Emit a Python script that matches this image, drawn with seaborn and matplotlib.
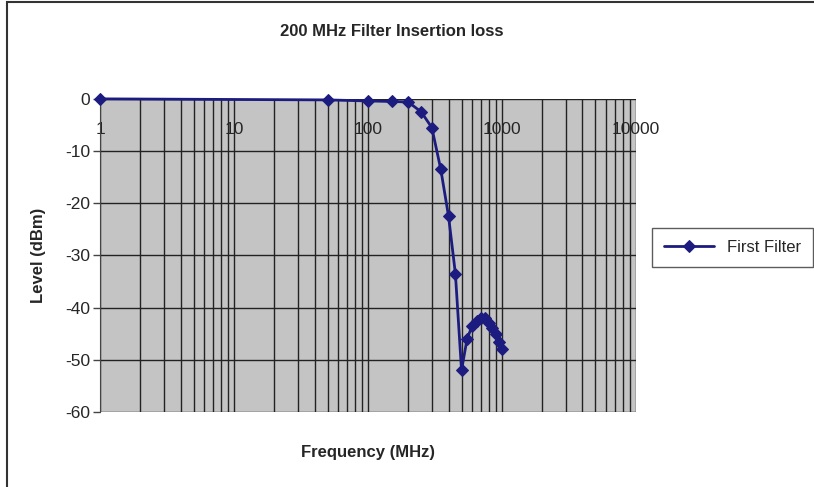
import numpy as np
import matplotlib
matplotlib.use("Agg")
import matplotlib.pyplot as plt
import seaborn as sns
import pandas as pd
from matplotlib.patches import Rectangle
from matplotlib.ticker import FixedLocator, NullFormatter

# data
freq_mhz = [1, 50, 100, 150, 200, 250, 300, 350, 400, 450, 500, 550,
            600, 650, 700, 750, 800, 850, 900, 950, 1000]
level_dbm = [0, -0.2, -0.4, -0.5, -0.6, -2.5, -5.5, -13.5, -22.5, -33.5, -52, -46,
             -43.5, -42.5, -42, -42, -43, -44, -45, -46.5, -48]
series_name = "First Filter"
x_ticks = [1, 10, 100, 1000, 10000]
y_ticks = [0, -10, -20, -30, -40, -50, -60]

df = pd.DataFrame({"Frequency": freq_mhz, "Level": level_dbm, "Series": series_name})

sns.set_style("white")
plt.rcParams["font.family"] = ["Liberation Sans", "DejaVu Sans"]

fig = plt.figure(figsize=(8.14, 4.87), dpi=100)
ax = fig.add_axes([0.123, 0.154, 0.658, 0.643])
ax.set_facecolor("#c4c4c4")

sns.lineplot(data=df, x="Frequency", y="Level", hue="Series", palette=["#1c1c80"],
             marker="D", markersize=6, markeredgecolor="#1c1c80", linewidth=2,
             ax=ax, legend=True, zorder=5, clip_on=False)

ax.set_xscale("log")
ax.set_xlim(1, 10000)
ax.set_ylim(-60, 0)
ax.xaxis.set_major_locator(FixedLocator(x_ticks))
ax.xaxis.set_minor_locator(FixedLocator([m * 10 ** d for d in range(4) for m in range(2, 10)]))
ax.xaxis.set_minor_formatter(NullFormatter())
ax.set_xticklabels([str(t) for t in x_ticks])
ax.set_yticks(y_ticks)
ax.set_yticklabels([str(t) for t in y_ticks])

ax.grid(True, which="major", axis="both", color="#222222", linewidth=1.0)
ax.grid(True, which="minor", axis="x", color="#222222", linewidth=1.0)

ax.tick_params(axis="x", which="both", top=False, bottom=False,
               labeltop=True, labelbottom=False, pad=-31, labelsize=12.5)
ax.tick_params(axis="y", left=True, length=5, width=1, color="#444444", labelsize=12.5, pad=2)
for side in ["top", "right", "bottom"]:
    ax.spines[side].set_visible(False)
ax.spines["left"].set_color("#444444")

ax.set_xlabel("Frequency (MHz)", fontsize=12, fontweight="bold", labelpad=24)
ax.set_ylabel("Level (dBm)", fontsize=12, fontweight="bold", labelpad=14)
ax.set_title("200 MHz Filter Insertion loss", fontsize=12, fontweight="bold", pad=45, x=0.545)

leg = ax.legend(loc="center left", bbox_to_anchor=(1.015, 0.525), frameon=True,
                fancybox=False, edgecolor="#333333", fontsize=12,
                handlelength=3.0, borderpad=0.7)
leg.get_frame().set_linewidth(1.0)

# outer chart frame
fig.patches.append(Rectangle((0.009, -0.02), 1.02, 1.016, transform=fig.transFigure,
                             fill=False, edgecolor="#333333", linewidth=1.5))

fig.savefig("out.png", dpi=100)
